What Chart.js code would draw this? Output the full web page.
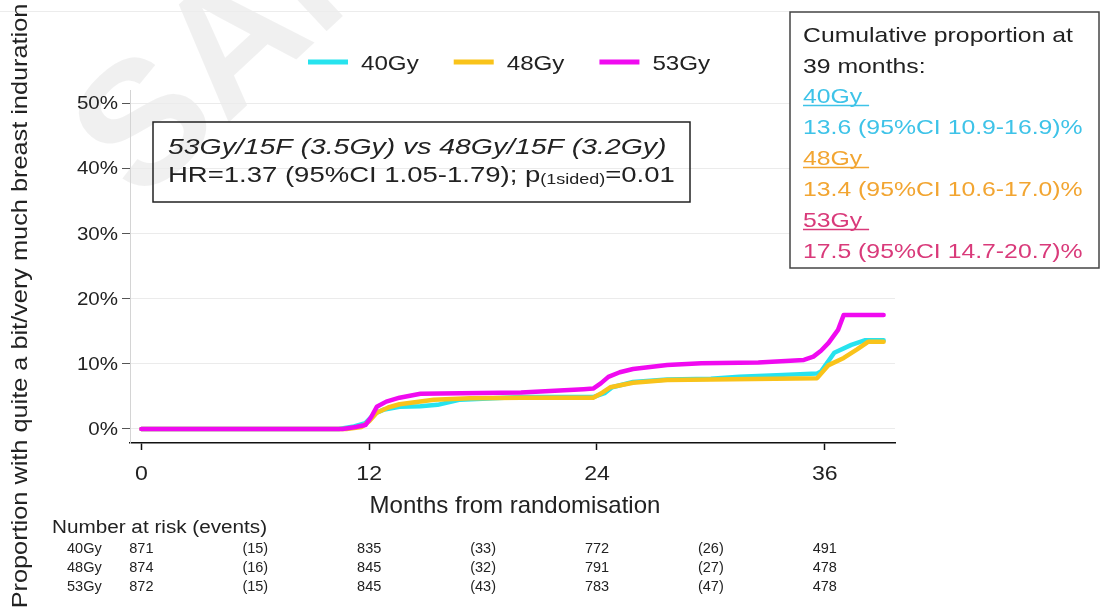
<!DOCTYPE html>
<html>
<head>
<meta charset="utf-8">
<script src="https://cdn.jsdelivr.net/npm/chart.js@4.4.1/dist/chart.umd.min.js"></script>
<style>
  html, body { margin: 0; padding: 0; background: #fff; }
  #chart { display: block; }
</style>
</head>
<body>
<canvas id="chart" width="1102" height="615"></canvas>
<script>
// curves: months and cumulative %
const months40 = [0, 10.4, 11.2, 11.8, 12.3, 12.8, 13.6, 14.7, 15.6, 16.8, 20, 23.8, 24.4, 24.8, 25.9, 27.7, 30, 31.5, 33.8, 35.6, 35.8, 36.5, 37.4, 38.1, 39.1];
const values40 = [0, 0, 0.4, 0.9, 2.4, 3.0, 3.4, 3.5, 3.7, 4.5, 4.9, 4.9, 5.5, 6.4, 7.2, 7.6, 7.7, 8.0, 8.3, 8.5, 8.8, 11.7, 12.9, 13.6, 13.6];

const months48 = [0, 10.8, 11.6, 12.0, 12.4, 13.0, 13.6, 15.4, 17.3, 20, 23.8, 24.3, 24.7, 25.9, 27.7, 30, 35.6, 36.2, 37.0, 37.7, 38.3, 39.1];
const values48 = [0, 0, 0.3, 1.2, 2.5, 3.3, 3.8, 4.5, 4.7, 4.8, 4.8, 5.6, 6.4, 7.1, 7.5, 7.6, 7.8, 9.8, 10.9, 12.2, 13.4, 13.4];

const months53 = [0, 10.6, 11.3, 11.8, 12.1, 12.4, 12.9, 13.6, 14.7, 20, 23.3, 23.8, 24.2, 24.6, 25.2, 25.9, 27.7, 29.5, 32.5, 34.9, 35.4, 35.8, 36.2, 36.7, 37.0, 39.1];
const values53 = [0, 0, 0.3, 0.6, 1.8, 3.4, 4.2, 4.8, 5.4, 5.6, 6.1, 6.2, 7.0, 8.0, 8.7, 9.2, 9.8, 10.1, 10.2, 10.6, 11.1, 12.0, 13.2, 15.2, 17.5, 17.5];

const groups = ['40Gy', '48Gy', '53Gy'];
const xTicks = [0, 12, 24, 36];
const yTicks = [0, 10, 20, 30, 40, 50];

// number at risk table
const riskMonths = [0, 12, 24, 36];
const eventMonths = [6, 18, 30];
const risk40 = [871, 835, 772, 491];
const risk48 = [874, 845, 791, 478];
const risk53 = [872, 845, 783, 478];
const events40 = [15, 33, 26];
const events48 = [16, 32, 27];
const events53 = [15, 43, 47];

// cumulative proportion at 39 months
const cumEst = [13.6, 13.4, 17.5];
const cumLow = [10.9, 10.6, 14.7];
const cumHigh = [16.9, 17.0, 20.7];

const lineColors = ['#27e3ee', '#f9c31a', '#f00af0'];
const textColors = ['#3ec3e8', '#f2a531', '#d93a7a'];
const FONT = '"Liberation Sans", Arial, sans-serif';

function pts(mx, vals) {
    return mx.map(function (m, i) { return { x: m, y: vals[i] }; });
}

// text with a horizontal stretch, like the source picture
function txt(ctx, s, x, y, o) {
    o = o || {};
    const sx = o.sx || 1;
    ctx.save();
    ctx.font = (o.style || '') + ' ' + o.size + 'px ' + FONT;
    ctx.fillStyle = o.color || '#222';
    ctx.textBaseline = o.base || 'alphabetic';
    ctx.textAlign = 'left';
    const w = ctx.measureText(s).width * sx;
    let x0 = x;
    if (o.align === 'center') x0 = x - w / 2;
    if (o.align === 'right') x0 = x - w;
    ctx.translate(x0, y);
    ctx.scale(sx, 1);
    ctx.fillText(s, 0, 0);
    ctx.restore();
    return w;
}

const decorations = {
    id: 'decorations',
    beforeDraw: function (chart) {
        const ctx = chart.ctx;
        // faint watermark
        ctx.save();
        ctx.translate(140, 205);
        ctx.rotate(-0.75);
        ctx.font = 'bold 175px ' + FONT;
        ctx.fillStyle = 'rgba(0,0,0,0.06)';
        ctx.fillText('SAMPLE', 0, 0);
        ctx.restore();
        ctx.save();
        ctx.strokeStyle = '#ececec';
        ctx.lineWidth = 1;
        ctx.beginPath();
        ctx.moveTo(0, 11.5);
        ctx.lineTo(790, 11.5);
        ctx.stroke();
        ctx.restore();
    },
    afterDraw: function (chart) {
        const ctx = chart.ctx;
        const xs = chart.scales.x, ys = chart.scales.y;

        // tick labels
        yTicks.forEach(function (v) {
            txt(ctx, v + '%', 118, ys.getPixelForValue(v) + 1, { size: 19, sx: 1.08, align: 'right', base: 'middle' });
        });
        xTicks.forEach(function (v) {
            txt(ctx, String(v), xs.getPixelForValue(v), 480, { size: 21, sx: 1.1, align: 'center' });
        });

        // axis titles
        txt(ctx, 'Months from randomisation', 515, 513, { size: 24, sx: 1.0, align: 'center' });
        ctx.save();
        ctx.translate(27, 306);
        ctx.rotate(-Math.PI / 2);
        ctx.scale(1.15, 1);
        ctx.font = '22px ' + FONT;
        ctx.fillStyle = '#222';
        ctx.textAlign = 'center';
        ctx.fillText('Proportion with quite a bit/very much breast induration', 0, 0);
        ctx.restore();

        // legend
        let lx = 308;
        chart.data.datasets.forEach(function (ds) {
            ctx.save();
            ctx.strokeStyle = ds.borderColor;
            ctx.lineWidth = 5;
            ctx.beginPath();
            ctx.moveTo(lx, 62);
            ctx.lineTo(lx + 40, 62);
            ctx.stroke();
            ctx.restore();
            const w = txt(ctx, ds.label, lx + 53, 70, { size: 21, sx: 1.15 });
            lx += 53 + w + 35;
        });

        // comparison box
        ctx.save();
        ctx.strokeStyle = '#222';
        ctx.lineWidth = 1.5;
        ctx.strokeRect(153, 122, 537, 80);
        ctx.restore();
        txt(ctx, '53Gy/15F (3.5Gy) vs 48Gy/15F (3.2Gy)', 168, 154, { size: 22, sx: 1.29, style: 'italic' });
        let hx = 168;
        hx += txt(ctx, 'HR=1.37 (95%CI 1.05-1.79); p', hx, 182, { size: 22, sx: 1.25 });
        hx += txt(ctx, '(1sided)', hx, 184, { size: 15, sx: 1.2 });
        txt(ctx, '=0.01', hx, 182, { size: 22, sx: 1.25 });

        // cumulative proportion box
        ctx.save();
        ctx.fillStyle = '#fff';
        ctx.fillRect(790, 12, 309, 256);
        ctx.strokeStyle = '#444';
        ctx.lineWidth = 1.5;
        ctx.strokeRect(790, 12, 309, 256);
        ctx.restore();
        txt(ctx, 'Cumulative proportion at', 803, 42, { size: 21, sx: 1.18 });
        txt(ctx, '39 months:', 803, 73, { size: 21, sx: 1.18 });
        groups.forEach(function (g, i) {
            const by = 103 + i * 62;
            const w = txt(ctx, g + ' ', 803, by, { size: 21, sx: 1.18, color: textColors[i] });
            ctx.save();
            ctx.strokeStyle = textColors[i];
            ctx.lineWidth = 1.3;
            ctx.beginPath();
            ctx.moveTo(803, by + 2.5);
            ctx.lineTo(803 + w, by + 2.5);
            ctx.stroke();
            ctx.restore();
            const s = cumEst[i].toFixed(1) + ' (95%CI ' + cumLow[i].toFixed(1) + '-' + cumHigh[i].toFixed(1) + ')%';
            txt(ctx, s, 803, by + 31, { size: 21, sx: 1.18, color: textColors[i] });
        });

        // number at risk
        txt(ctx, 'Number at risk (events)', 52, 533, { size: 18, sx: 1.15 });
        const risks = [risk40, risk48, risk53];
        const events = [events40, events48, events53];
        groups.forEach(function (g, i) {
            const ry = 553 + i * 19;
            txt(ctx, g, 67, ry, { size: 14.5 });
            riskMonths.forEach(function (m, j) {
                txt(ctx, String(risks[i][j]), xs.getPixelForValue(m), ry, { size: 14.5, align: 'center' });
            });
            eventMonths.forEach(function (m, j) {
                txt(ctx, '(' + events[i][j] + ')', xs.getPixelForValue(m), ry, { size: 14.5, align: 'center' });
            });
        });
    }
};

new Chart('chart', {
    type: 'line',
    data: {
        datasets: [{
            label: groups[0],
            data: pts(months40, values40),
            borderColor: lineColors[0],
            backgroundColor: lineColors[0],
            order: 2
        }, {
            label: groups[1],
            data: pts(months48, values48),
            borderColor: lineColors[1],
            backgroundColor: lineColors[1],
            order: 1
        }, {
            label: groups[2],
            data: pts(months53, values53),
            borderColor: lineColors[2],
            backgroundColor: lineColors[2],
            order: 0
        }]
    },
    options: {
        responsive: false,
        animation: false,
        devicePixelRatio: 1,
        layout: { padding: { left: 0, top: 90, right: 207, bottom: 0 } },
        elements: {
            line: { borderWidth: 4.5, tension: 0, borderCapStyle: 'round', borderJoinStyle: 'round' },
            point: { radius: 0, hoverRadius: 0 }
        },
        scales: {
            x: {
                type: 'linear',
                min: -0.6,
                max: 39.7,
                afterBuildTicks: function (s) { s.ticks = xTicks.map(function (v) { return { value: v }; }); },
                afterFit: function (s) { s.height = 172; },
                ticks: { display: false },
                grid: { drawOnChartArea: false, tickLength: 7, tickColor: '#111', tickWidth: 1.5 },
                border: { color: '#111', width: 1.5 }
            },
            y: {
                min: -2.15,
                max: 52,
                afterBuildTicks: function (s) { s.ticks = yTicks.map(function (v) { return { value: v }; }); },
                afterFit: function (s) { s.width = 130; },
                ticks: { display: false },
                grid: { color: '#ebebeb', tickColor: '#555', tickLength: 8, lineWidth: 1 },
                border: { color: '#d4d4d4', width: 1 }
            }
        },
        plugins: {
            legend: { display: false },
            tooltip: { enabled: false }
        }
    },
    plugins: [decorations]
});
</script>
</body>
</html>
